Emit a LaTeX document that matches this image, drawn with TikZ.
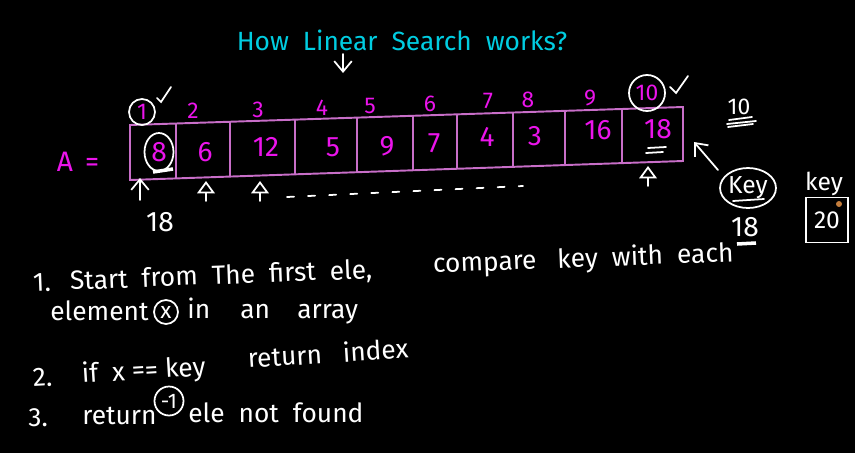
\documentclass[tikz,border=0pt]{standalone}
\usepackage{fontspec}
\setmainfont{Fira Sans}
\usetikzlibrary{positioning,arrows.meta,shapes.geometric}
\definecolor{chalkcyan}{RGB}{0,205,225}
\definecolor{chalkmag}{RGB}{235,20,235}
\definecolor{chalkpink}{RGB}{200,110,200}
\definecolor{chalkorange}{RGB}{195,125,60}

\begin{document}
\begin{tikzpicture}[x=0.02cm, y=-0.02cm,
    chalk/.style={white, line width=1pt, line cap=round},
    barb/.style={chalk, -{Straight Barb[length=6pt,width=10pt]}},
    tri/.style={chalk, -{Triangle[open,length=7pt,width=10pt]}},
    cellline/.style={chalkpink, line width=1.1pt},
    idx/.style={text=chalkmag, font=\fontsize{13}{14}\selectfont, inner sep=1pt},
    val/.style={text=chalkmag, font=\fontsize{16}{18}\selectfont, inner sep=1pt},
    note/.style={text=white, font=\fontsize{15}{18}\selectfont, inner sep=0pt, anchor=base west},
    ring/.style={draw=white, circle, line width=1pt, inner sep=0pt}]
    \useasboundingbox (0,0) rectangle (855,453);
    \fill[black] (0,0) rectangle (855,453);

    % heading
    \node[text=chalkcyan, font=\fontsize{15}{18}\selectfont] (title) at (402,40) {How \ Linear \ Search \ works?};
    \coordinate (t0) at (343,54);
    \coordinate (t1) at (343,73);
    \draw[barb] (t0) -- (t1);

    % the array
    \node[text=chalkmag, font=\fontsize{16}{18}\selectfont] (aname) at (78,162) {A \,=};
    \coordinate (tl) at (130,125);
    \coordinate (tr) at (683,107);
    \coordinate (br) at (683,161);
    \coordinate (bl) at (130,180);
    \draw[cellline] (tl) -- (tr) -- (br) -- (bl) -- cycle;
    \draw[cellline] (176,123.5) -- (176,178.4);
    \draw[cellline] (230,121.7) -- (230,176.6);
    \draw[cellline] (295,119.6) -- (295,174.3);
    \draw[cellline] (357,117.6) -- (357,172.2);
    \draw[cellline] (413,115.8) -- (413,170.3);
    \draw[cellline] (457,114.4) -- (457,168.8);
    \draw[cellline] (513,112.5) -- (513,166.8);
    \draw[cellline] (565,110.8) -- (565,165.1);
    \draw[cellline] (622,109.0) -- (622,163.1);

    \node[val, ellipse, draw=white, line width=1pt, minimum width=0.58cm, minimum height=0.76cm] (v1) at (159,152) {8};
    \node[val] (v2) at (205,152) {6};
    \node[val] (v3) at (266,147) {12};
    \node[val] (v4) at (333,147) {5};
    \node[val] (v5) at (387,146) {9};
    \node[val] (v6) at (434,143) {7};
    \node[val] (v7) at (487,137) {4};
    \node[val] (v8) at (535,136) {3};
    \node[val] (v9) at (598,130) {16};
    \node[val] (v10) at (658,129) {18};
    \draw[white, line width=2pt] (153,172) -- (173,169);
    \draw[chalk] (648,148) -- (666,147);
    \draw[chalk] (646,153) -- (663,152);

    \node[idx, ring, minimum size=0.52cm] (i1) at (142,112) {1};
    \node[idx] (i2) at (193,111) {2};
    \node[idx] (i3) at (258,110) {3};
    \node[idx] (i4) at (322,108) {4};
    \node[idx] (i5) at (370,106) {5};
    \node[idx] (i6) at (430,104) {6};
    \node[idx] (i7) at (488,101) {7};
    \node[idx] (i8) at (528,100) {8};
    \node[idx] (i9) at (590,98) {9};
    \node[idx, ring, minimum size=0.72cm] (i10) at (647,93) {10};
    \draw[chalk] (157,98) -- (161,102) -- (171,87);
    \draw[chalk] (670,87) -- (676,93) -- (688,76);

    % pointers under the array
    \coordinate (p1a) at (140,200);
    \coordinate (p1b) at (140,178);
    \coordinate (p2a) at (206,201);
    \coordinate (p2b) at (206,181);
    \coordinate (p3a) at (260,201);
    \coordinate (p3b) at (260,181);
    \coordinate (p10a) at (648,186);
    \coordinate (p10b) at (648,166);
    \draw[barb] (p1a) -- (p1b);
    \draw[tri] (p2a) -- (p2b);
    \draw[tri] (p3a) -- (p3b);
    \draw[tri] (p10a) -- (p10b);
    \coordinate (d0) at (287,197);
    \coordinate (d1) at (523,186);
    \draw[chalk, dash pattern=on 4pt off 8pt] (d0) -- (d1);
    \node[val, text=white] (found) at (160,222) {18};

    % key on the right
    \node[val, text=white, font=\fontsize{13}{14}\selectfont] (ten) at (739,107) {10};
    \draw[chalk] (729,120) -- (752,117);
    \draw[chalk] (727,124) -- (756,121);
    \draw[chalk] (728,127) -- (753,124);
    \coordinate (k0) at (718,170);
    \coordinate (k1) at (694,142);
    \draw[barb] (k0) -- (k1);
    \node[ellipse, draw=white, line width=1pt, text=white, font=\fontsize{14}{16}\selectfont, inner sep=0pt, minimum width=0.9cm, minimum height=0.8cm] (key) at (748,188) {Key};
    \draw[chalk] (733,201) -- (764,199);
    \node[val, text=white] (keyval) at (745,227) {18};
    \draw[white, line width=2pt] (737,244) -- (756,243);
    \node[text=white, font=\fontsize{14}{16}\selectfont, inner sep=0pt] (klab) at (824,184) {key};
    \node[draw=white, line width=1pt, text=white, font=\fontsize{14}{16}\selectfont, minimum width=0.84cm, minimum height=0.9cm] (kbox) at (827,220) {20};
    \fill[chalkorange] (839,204) circle (3);

    % steps
    \node[note, rotate=2.2] (s1n) at (33,292) {1.};
    \node[note, rotate=2.2] (s1a) at (70,290) {Start \ from \ The \ first \ ele,};
    \node[note, rotate=2.2] (s1b) at (433,273) {compare \ \ key \ with \ each};
    \node[note] (s1c) at (50,320) {element};
    \node[ring, text=white, font=\fontsize{13}{14}\selectfont, minimum size=0.48cm] (xx) at (166,312) {x};
    \node[note] (s1d) at (187,318) {in};
    \node[note] (s1e) at (240,318) {an};
    \node[note] (s1f) at (297,318) {array};
    \node[note, rotate=3.5] (s2n) at (33,387) {2.};
    \node[note, rotate=3.5] (s2a) at (82,383) {if \ x == key};
    \node[note, rotate=3.5] (s2b) at (248,368) {return \ \ index};
    \node[note] (s3n) at (28,426) {3.};
    \node[note] (s3a) at (82,424) {return};
    \node[ring, text=white, font=\fontsize{12}{14}\selectfont, minimum size=0.58cm] (minus) at (169,401) {-1};
    \node[note] (s3b) at (188,422) {ele \ not \ found};
\end{tikzpicture}
\end{document}
